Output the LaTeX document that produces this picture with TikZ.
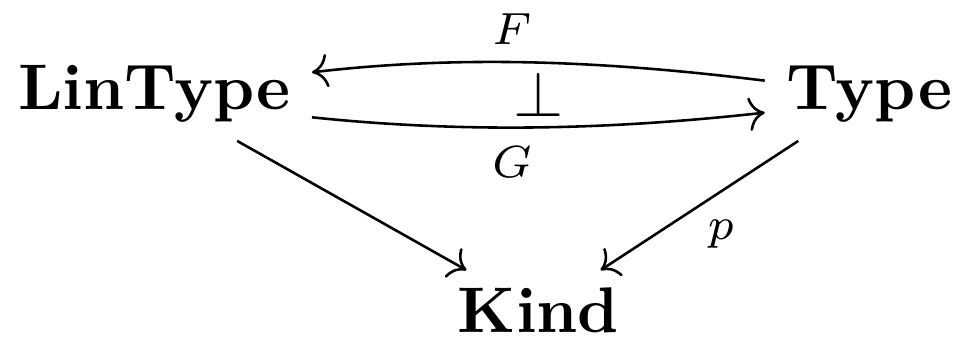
\documentclass[tikz,border=0pt]{standalone}
\usetikzlibrary{cd}
\begin{document}
\begin{tikzpicture}[x=0.15504pt,y=0.15504pt,
  obj/.style={inner xsep=3.1pt,inner ysep=2.6pt,font=\bfseries,anchor=base},
  arr/.style={-{cm to},line width=0.4pt},
  lbl/.style={inner sep=0pt,anchor=base}]
\useasboundingbox (0,0) rectangle (959,-339);
\node[obj] (lin) at (154.5,-110) {LinType};
\node[obj] (typ) at (869,-110) {Type};
\node[obj] (kind) at (538.5,-333) {Kind};
\draw[arr] ([yshift=2.17pt]typ.west) .. controls +(-154,19) and +(154,18) .. ([yshift=3.41pt]lin.east);
\draw[arr] ([yshift=-3.57pt]lin.east) .. controls +(154,-16) and +(-154,-17) .. ([yshift=-2.79pt]typ.west);
\draw[arr] (lin) -- (kind);
\draw[arr] (typ) -- (kind);
\node[lbl] (f) at (512,-45) {$\scriptstyle F$};
\node[lbl] (g) at (512,-178) {$\scriptstyle G$};
\node[lbl] (perp) at (539,-117) {$\perp$};
\node[lbl] (p) at (721,-240) {$\scriptstyle p$};
\end{tikzpicture}
\end{document}
